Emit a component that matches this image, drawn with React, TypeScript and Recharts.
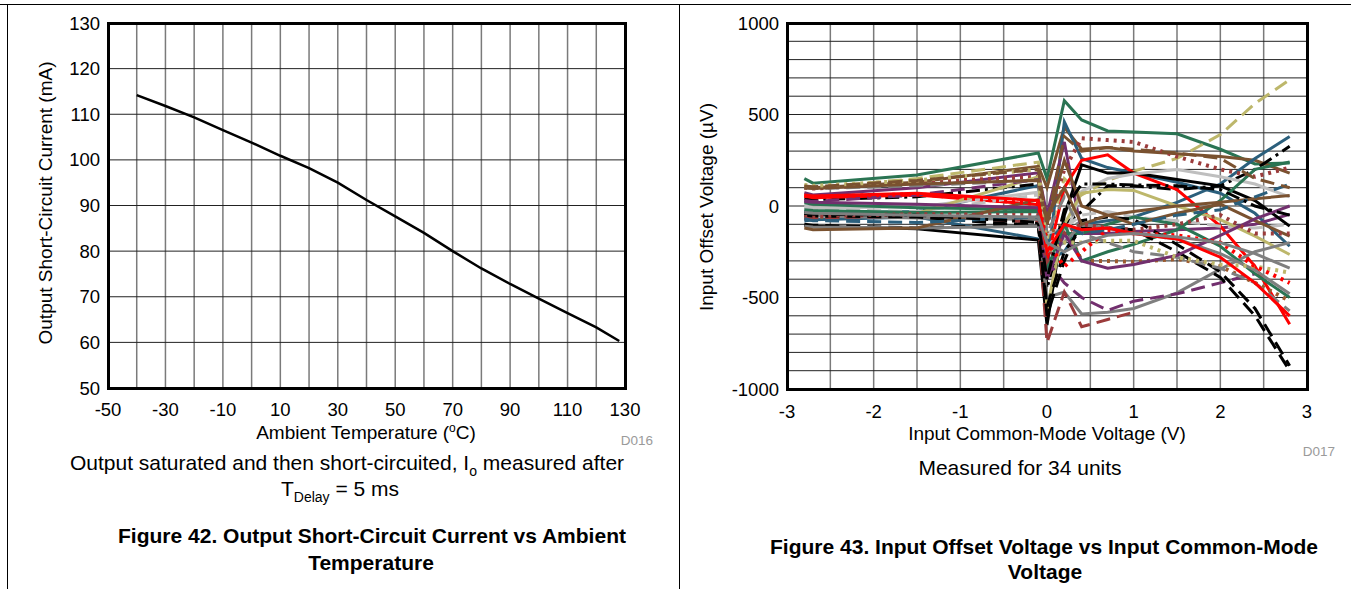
import React from 'react';
import { LineChart, Line, XAxis, YAxis, CartesianGrid } from 'recharts';

// ---- Figure 42: short-circuit current vs temperature ----
const tempC = [-40, -30, -20, -10, 0, 10, 20, 30, 40, 50, 60, 70, 80, 90, 100, 110, 120, 128];
const iscMA = [114.2, 111.8, 109.3, 106.5, 103.8, 100.9, 98.2, 95.0, 91.2, 87.6, 84.0, 80.0, 76.2, 72.8, 69.6, 66.4, 63.3, 60.3];
const tempTicks = [-50, -40, -30, -20, -10, 0, 10, 20, 30, 40, 50, 60, 70, 80, 90, 100, 110, 120, 130];
const tempLabels = [-50, -30, -10, 10, 30, 50, 70, 90, 110, 130];
const iscTicks = [50, 60, 70, 80, 90, 100, 110, 120, 130];

// ---- Figure 43: offset voltage vs common-mode voltage, 34 units ----
const vcm = [-2.8, -2.7, -1.5, -0.1, 0, 0.2, 0.4, 0.7, 1.0, 1.5, 2.0, 2.4, 2.8];
const vosUnits: (number | null)[][] = [
  [150, 125, 170, 290, 150, 575, 470, 410, 405, 395, 310, 230, 235],
  [110, 100, 150, 240, -200, 150, 60, 140, 190, 260, 390, 560, 690],
  [105, 100, 130, 217, 100, 430, 310, 320, 300, 285, 270, 250, 180],
  [-82, -75, -60, -180, -350, 460, 260, 210, 180, 130, 70, -40, -220],
  [-28, -40, -30, 112, -300, -250, -100, -80, -60, 20, 120, 260, 380],
  [40, 35, 50, 120, -450, -100, -30, 110, 110, 90, 110, 200, 326],
  [72, 60, 100, 181, -50, 350, -150, -150, -140, -130, -120, -100, -46],
  [55, 45, 60, 8, -300, 100, 250, 280, 180, 90, -110, -330, -646],
  [100, 95, 130, 160, -100, 200, 370, 360, 350, 270, 200, 160, 210],
  [-106, -110, -125, -186, -650, -50, 225, 180, 180, 145, 110, 30, -110],
  [0, -10, -5, 75, -200, -180, 80, 150, 175, 200, 160, 120, 50],
  [-10, -20, -30, 60, -150, -120, -50, -30, -60, -80, -110, -120, -100],
  [-64, -60, -50, -25, -150, -100, -300, -300, -305, -290, -330, -420, -518],
  [-55, -50, -40, 160, -560, -100, 70, 90, 85, 0, -75, -165, -265],
  [-45, -55, -65, -74, -500, -470, -590, -580, -560, -475, -345, -250, -200],
  [30, 25, 60, 145, -300, -420, -500, -570, -520, -480, -420, -370, null],
  [-70, -65, -55, -90, -745, -470, -660, -620, -580, null, null, null, null],
  [17, 10, -10, -19, -350, -100, -300, -250, -210, -130, 30, 200, 240],
  [-20, -25, -35, -30, -250, -150, -150, -100, -60, -100, -220, -370, -500],
  [-100, -105, -120, -95, -600, -300, -80, -60, -74, -210, -360, -560, -873],
  [-50, -55, -60, -110, -550, -250, -120, -120, -130, -250, -390, -600, -900],
  [100, 95, 110, 141, -150, 50, -150, -200, -250, -280, -340, -420, -573],
  [-110, -115, -120, -110, -250, -200, -100, -120, -150, -180, -260, -350, -480],
  [-120, -130, -120, 35, -50, 100, -100, -50, -30, 0, 20, 40, 57],
  [100, 95, 120, 140, -100, 250, 0, -50, -100, -40, 10, -80, -164],
  [25, 20, 10, -10, -400, -150, -300, -340, -320, -270, -160, -70, 0],
  [115, 110, 140, 200, -250, -200, -200, -190, -190, -280, -320, -330, -364],
  [55, 50, 65, 10, -200, -330, -250, -130, -150, -160, -200, -330, -420],
  [-60, -55, -45, -50, -300, -150, -100, -120, -130, -100, -50, -150, -150],
  [-70, -80, -90, -60, -200, -100, -150, -130, -100, -50, -20, 50, 120],
  [110, 105, 140, 200, -100, 380, 300, 320, 310, 290, 260, 150, 100],
  [-40, -45, -50, -90, -400, -20, 120, 120, 115, 110, 90, 0, -50],
  [60, 55, 70, 30, -250, -100, -130, -120, -150, -180, -280, -420, -600],
  [-35, -40, -50, -60, -200, -250, -200, -160, -150, -170, -200, -260, -340],
];
const vcmTicks = [-3, -2.5, -2, -1.5, -1, -0.5, 0, 0.5, 1, 1.5, 2, 2.5, 3];
const vcmLabels = [-3, -2, -1, 0, 1, 2, 3];
const vosTicks = [-1000, -900, -800, -700, -600, -500, -400, -300, -200, -100, 0, 100, 200, 300, 400, 500, 600, 700, 800, 900, 1000];
const vosLabels = [-1000, -500, 0, 500, 1000];

const G = '#2a7453', K = '#000000', R = '#ff0000', B = '#7a5230', Y = '#bdb76b';
const P = '#722f6e', T = '#2b5f7c', GY = '#7f7f7f', LG = '#bfbfbf', M = '#9b3b3b', S = '#9c5a2e';
const SOLID = '', DASH = '14 7', DOT = '3 5', DASHDOT = '14 5 3 5';
const unitStyle = [
  [G, SOLID], [Y, DASH], [B, SOLID], [T, SOLID], [T, SOLID], [K, DASHDOT], [P, SOLID], [R, SOLID], [M, DOT],
  [K, SOLID], [LG, SOLID], [LG, DASH], [S, DOT], [Y, SOLID], [GY, SOLID], [P, DASH], [M, DASH], [G, SOLID],
  [G, SOLID], [K, DASH], [K, DASH], [GY, DASH], [GY, SOLID], [B, SOLID], [B, SOLID], [P, SOLID], [Y, DOT],
  [R, DOT], [M, DOT], [T, DASH], [B, DASH], [K, DASHDOT], [R, SOLID], [GY, SOLID],
];

const font = "'Liberation Sans', Arial, Helvetica, sans-serif";
const tickStyle = { fill: '#000', fontSize: 18.5, fontFamily: font };

const abs = (left: number, top: number, extra: React.CSSProperties = {}): React.CSSProperties => ({
  position: 'absolute', left, top, fontFamily: font, color: '#000', whiteSpace: 'nowrap', lineHeight: 1, ...extra,
});

function Centered({ x, y, size = 19, bold = false, color = '#000', children }: any) {
  return (
    <div style={abs(x, y, { transform: 'translate(-50%, -50%)', fontSize: size, fontWeight: bold ? 'bold' : 'normal', color })}>
      {children}
    </div>
  );
}

export default function App() {
  const iscData = tempC.map((t, i) => ({ t, isc: iscMA[i] }));
  const unitData = vosUnits.map((u) => vcm.map((v, i) => ({ v, vos: u[i] })));

  return (
    <div style={{ position: 'absolute', left: 0, top: 0, width: 1351, height: 589, background: '#fff', overflow: 'hidden' }}>
      {/* page frame */}
      <div style={{ position: 'absolute', left: 0, top: 4, width: 1351, height: 1, background: '#000' }} />
      <div style={{ position: 'absolute', left: 7, top: 4, width: 1, height: 585, background: '#000' }} />
      <div style={{ position: 'absolute', left: 679, top: 4, width: 1, height: 585, background: '#000' }} />

      {/* Figure 42 */}
      <div style={{ position: 'absolute', left: 0, top: 0 }}>
        <LineChart width={680} height={589} data={iscData} margin={{ top: 23, right: 55, bottom: 171, left: 48 }}>
          <CartesianGrid horizontal={false} stroke="#7a7a7a" strokeWidth={1.5} />
          <CartesianGrid vertical={false} stroke="#222" strokeWidth={1} />
          <XAxis dataKey="t" type="number" domain={[-50, 130]} ticks={tempTicks} interval={0} height={30}
            tickFormatter={(v: number) => (tempLabels.includes(v) ? String(v) : '')}
            tick={tickStyle} tickLine={false} axisLine={false} tickMargin={9} />
          <YAxis type="number" domain={[50, 130]} ticks={iscTicks} interval={0} width={60}
            tick={tickStyle} tickLine={false} axisLine={false} />
          <Line dataKey="isc" stroke="#000" strokeWidth={2.5} dot={false} isAnimationActive={false} />
        </LineChart>
      </div>
      <div style={{ position: 'absolute', left: 106.5, top: 21.5, width: 520, height: 368, border: '3px solid #000', boxSizing: 'border-box', pointerEvents: 'none' }} />
      <div style={abs(45, 203, { transform: 'translate(-50%, -50%) rotate(-90deg)', fontSize: 19 })}>Output Short-Circuit Current (mA)</div>
      <Centered x={366} y={432}>Ambient Temperature (<sup style={{ fontSize: 12 }}>o</sup>C)</Centered>
      <Centered x={637} y={441} size={13.5} color="#9a9a9a">D016</Centered>
      <Centered x={347} y={465} size={21}>Output saturated and then short-circuited, I<sub style={{ fontSize: 14 }}>o</sub> measured after</Centered>
      <Centered x={340} y={491} size={21}>T<sub style={{ fontSize: 14 }}>Delay</sub> = 5 ms</Centered>
      <Centered x={372} y={535} size={21} bold>Figure 42. Output Short-Circuit Current vs Ambient</Centered>
      <Centered x={371} y={562} size={21} bold>Temperature</Centered>

      {/* Figure 43 */}
      <div style={{ position: 'absolute', left: 680, top: 0 }}>
        <LineChart width={671} height={589} margin={{ top: 23, right: 44, bottom: 170, left: 47 }}>
          <CartesianGrid horizontal={false} stroke="#7a7a7a" strokeWidth={1.5} />
          <CartesianGrid vertical={false} stroke="#222" strokeWidth={1} />
          <XAxis dataKey="v" type="number" domain={[-3, 3]} ticks={vcmTicks} interval={0} height={30}
            allowDuplicatedCategory={false}
            tickFormatter={(v: number) => (vcmLabels.includes(v) ? String(v) : '')}
            tick={tickStyle} tickLine={false} axisLine={false} tickMargin={10} />
          <YAxis type="number" domain={[-1000, 1000]} ticks={vosTicks} interval={0} width={60}
            tickFormatter={(v: number) => (vosLabels.includes(v) ? String(v) : '')}
            tick={tickStyle} tickLine={false} axisLine={false} />
          {unitData.map((d, i) => (
            <Line key={i} data={d} dataKey="vos" type="linear" stroke={unitStyle[i][0]}
              strokeWidth={unitStyle[i][1] === DOT ? 4 : 3} strokeDasharray={unitStyle[i][1] || undefined}
              dot={false} connectNulls={false} isAnimationActive={false} />
          ))}
        </LineChart>
      </div>
      <div style={{ position: 'absolute', left: 785.5, top: 21.5, width: 523, height: 369, border: '3px solid #000', boxSizing: 'border-box', pointerEvents: 'none' }} />
      <div style={abs(706, 207, { transform: 'translate(-50%, -50%) rotate(-90deg)', fontSize: 19 })}>Input Offset Voltage (µV)</div>
      <Centered x={1047} y={433}>Input Common-Mode Voltage (V)</Centered>
      <Centered x={1319} y={452} size={13.5} color="#9a9a9a">D017</Centered>
      <Centered x={1020} y={467} size={21}>Measured for 34 units</Centered>
      <Centered x={1044} y={546} size={21} bold>Figure 43. Input Offset Voltage vs Input Common-Mode</Centered>
      <Centered x={1045} y={571} size={21} bold>Voltage</Centered>
    </div>
  );
}
